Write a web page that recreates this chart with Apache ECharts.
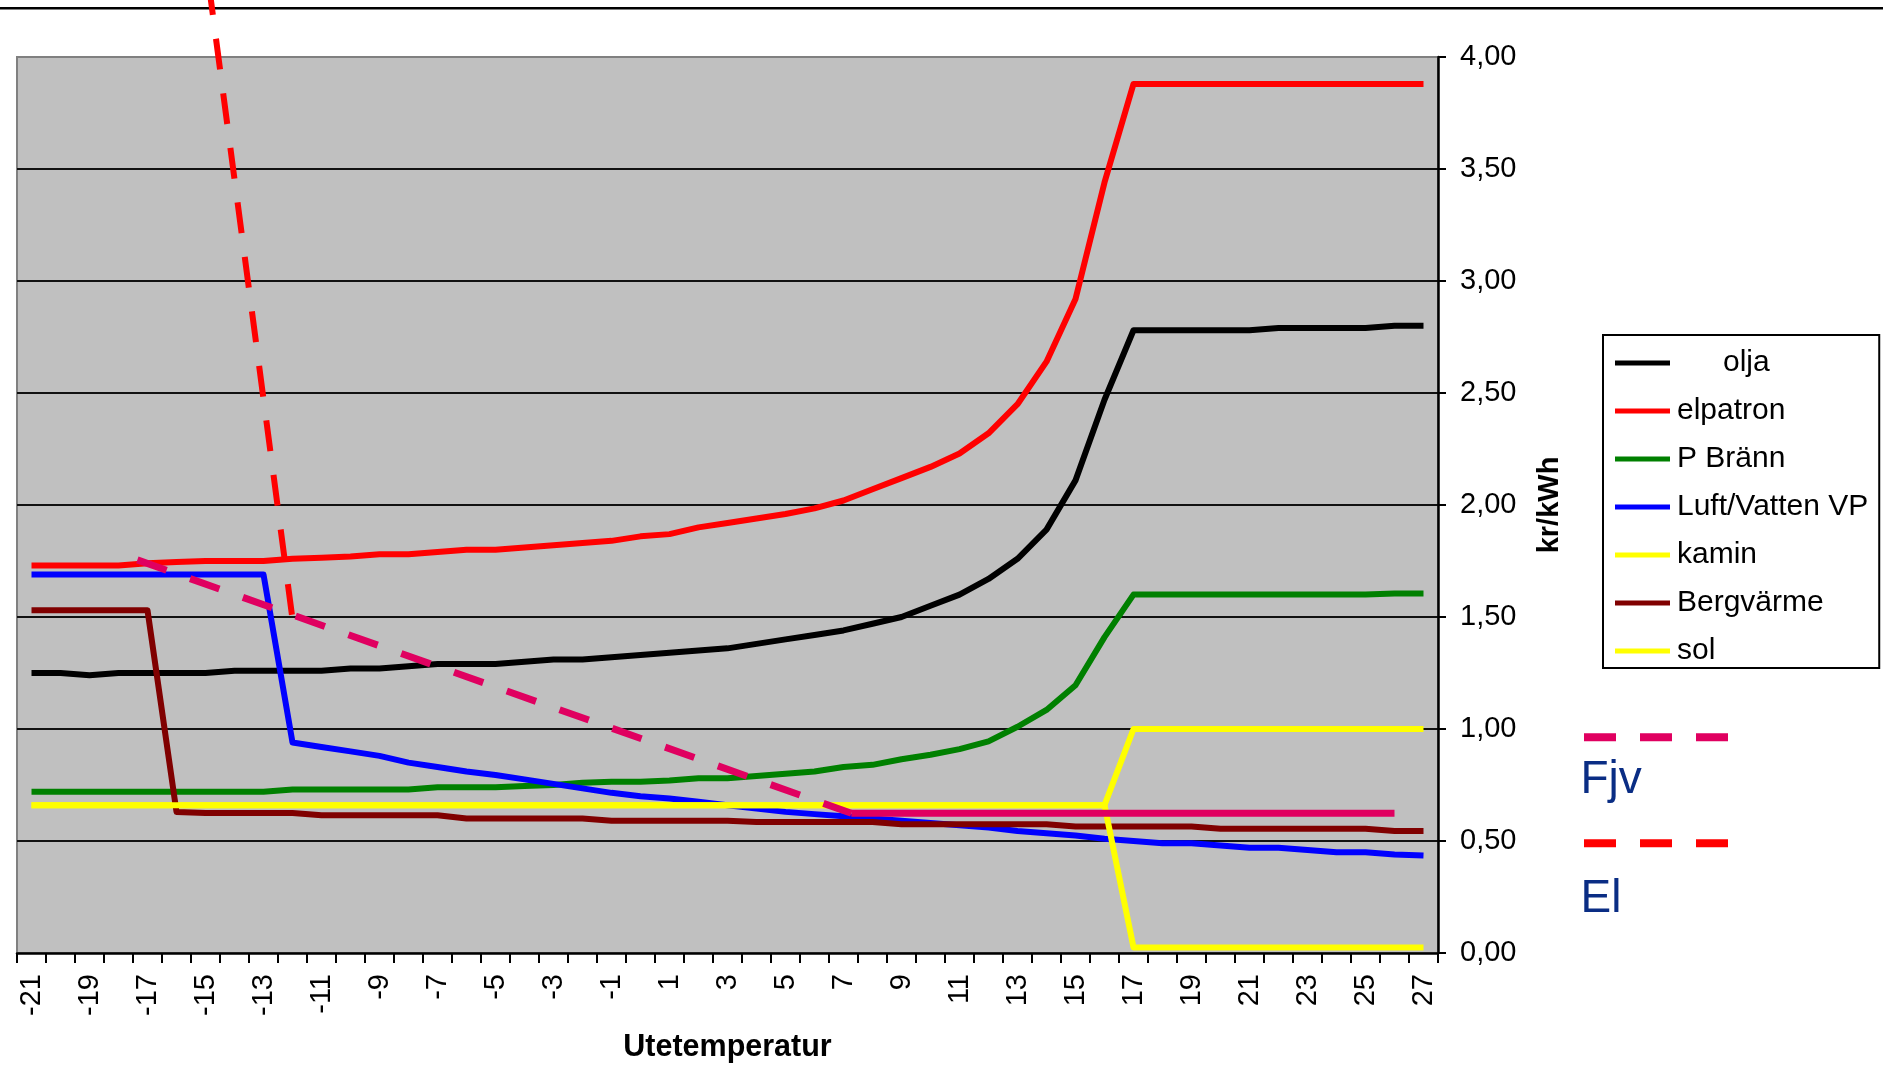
<!DOCTYPE html>
<html>
<head>
<meta charset="utf-8">
<title>Uppvärmningskostnad per kWh</title>
<script src="https://cdn.jsdelivr.net/npm/echarts@6/dist/echarts.min.js"></script>
<style>
  html, body { margin: 0; padding: 0; background: #ffffff; }
  #chart { width: 1883px; height: 1081px; }
</style>
</head>
<body>
<div id="chart"></div>
<script>
// Outdoor temperature categories (°C)
const temperatures = ['-21','-20','-19','-18','-17','-16','-15','-14','-13','-12','-11','-10','-9','-8','-7','-6','-5','-4','-3','-2','-1','0','1','2','3','4','5','6','7','8','9','10','11','12','13','14','15','16','17','18','19','20','21','22','23','24','25','26','27'];

// Cost in kr/kWh per heating method, one value per temperature
const olja = [1.25,1.25,1.24,1.25,1.25,1.25,1.25,1.26,1.26,1.26,1.26,1.27,1.27,1.28,1.29,1.29,1.29,1.30,1.31,1.31,1.32,1.33,1.34,1.35,1.36,1.38,1.40,1.42,1.44,1.47,1.50,1.55,1.60,1.67,1.76,1.89,2.11,2.47,2.78,2.78,2.78,2.78,2.78,2.79,2.79,2.79,2.79,2.80,2.80];
const elpatron = [1.73,1.73,1.73,1.73,1.74,1.745,1.75,1.75,1.75,1.76,1.765,1.77,1.78,1.78,1.79,1.80,1.80,1.81,1.82,1.83,1.84,1.86,1.87,1.90,1.92,1.94,1.96,1.985,2.02,2.07,2.12,2.17,2.23,2.32,2.45,2.64,2.92,3.44,3.88,3.88,3.88,3.88,3.88,3.88,3.88,3.88,3.88,3.88,3.88];
const pBrann = [0.72,0.72,0.72,0.72,0.72,0.72,0.72,0.72,0.72,0.73,0.73,0.73,0.73,0.73,0.74,0.74,0.74,0.745,0.75,0.76,0.765,0.765,0.77,0.78,0.78,0.79,0.80,0.81,0.83,0.84,0.865,0.885,0.91,0.945,1.01,1.085,1.195,1.41,1.60,1.60,1.60,1.60,1.60,1.60,1.60,1.60,1.60,1.605,1.605];
const luftVatten = [1.69,1.69,1.69,1.69,1.69,1.69,1.69,1.69,1.69,0.94,0.92,0.90,0.88,0.85,0.83,0.81,0.795,0.775,0.755,0.735,0.715,0.70,0.69,0.675,0.66,0.645,0.63,0.62,0.61,0.60,0.59,0.58,0.57,0.56,0.545,0.535,0.525,0.51,0.50,0.49,0.49,0.48,0.47,0.47,0.46,0.45,0.45,0.44,0.435];
const kamin = [0.66,0.66,0.66,0.66,0.66,0.66,0.66,0.66,0.66,0.66,0.66,0.66,0.66,0.66,0.66,0.66,0.66,0.66,0.66,0.66,0.66,0.66,0.66,0.66,0.66,0.66,0.66,0.66,0.66,0.66,0.66,0.66,0.66,0.66,0.66,0.66,0.66,0.66,1.00,1.00,1.00,1.00,1.00,1.00,1.00,1.00,1.00,1.00,1.00];
const bergvarme = [1.53,1.53,1.53,1.53,1.53,0.63,0.625,0.625,0.625,0.625,0.615,0.615,0.615,0.615,0.615,0.60,0.60,0.60,0.60,0.60,0.59,0.59,0.59,0.59,0.59,0.585,0.585,0.585,0.585,0.585,0.575,0.575,0.575,0.575,0.575,0.575,0.565,0.565,0.565,0.565,0.565,0.555,0.555,0.555,0.555,0.555,0.555,0.545,0.545];
const sol = [0.66,0.66,0.66,0.66,0.66,0.66,0.66,0.66,0.66,0.66,0.66,0.66,0.66,0.66,0.66,0.66,0.66,0.66,0.66,0.66,0.66,0.66,0.66,0.66,0.66,0.66,0.66,0.66,0.66,0.66,0.66,0.66,0.66,0.66,0.66,0.66,0.66,0.66,0.025,0.025,0.025,0.025,0.025,0.025,0.025,0.025,0.025,0.025,0.025];

// Hand-drawn guide lines (temperature, kr/kWh) for district heating and electricity
const fjvDashTemp = [-17.35, 7.27];
const fjvDashCost = [1.755, 0.624];
const fjvFlatTemp = [7.27, 26];
const fjvFlatCost = [0.624, 0.624];
const elTemp = [-12.02, -14.83];
const elCost = [1.51, 4.27];

// Y axis tick values
const costTicks = [0, 0.5, 1, 1.5, 2, 2.5, 3, 3.5, 4];

const FONT = '"Liberation Sans", Arial, sans-serif';
const PINK = '#E00060';
const NAVY = '#0A2D84';

const pairs = (xs, ys) => xs.map((x, i) => [x, ys[i]]);

function costLine(name, data, color) {
  return {
    name, type: 'line', data,
    xAxisIndex: 0, yAxisIndex: 0,
    symbol: 'none', showSymbol: false,
    lineStyle: { color, width: 6, join: 'round', cap: 'butt' },
    itemStyle: { color },
    emphasis: { disabled: true },
    silent: true
  };
}

function guideLine(name, data, color, width, dash, clip) {
  return {
    name, type: 'line', data,
    xAxisIndex: 1, yAxisIndex: 0,
    symbol: 'none', showSymbol: false,
    clip: clip,
    lineStyle: { color, width, type: dash || 'solid', cap: 'butt', join: 'round' },
    itemStyle: { color },
    emphasis: { disabled: true },
    silent: true
  };
}

const legendText = { fontFamily: FONT, fontSize: 30, color: '#000' };

const chart = echarts.init(document.getElementById('chart'), null, { renderer: 'canvas' });

chart.setOption({
  animation: false,
  backgroundColor: '#ffffff',
  textStyle: { fontFamily: FONT },
  grid: {
    left: 17, top: 57, width: 1421, height: 896,
    show: true, backgroundColor: '#C0C0C0', borderColor: '#808080', borderWidth: 2,
    containLabel: false, outerBoundsMode: 'none'
  },
  legend: {
    data: ['olja', 'elpatron', 'P Bränn', 'Luft/Vatten VP', 'kamin', 'Bergvärme', 'sol'],
    orient: 'vertical',
    left: 1603, top: 335,
    padding: [13, 11, 2, 12],
    itemGap: 18,
    itemWidth: 55, itemHeight: 5,
    icon: 'rect',
    selectedMode: false,
    backgroundColor: '#ffffff',
    borderColor: '#000000', borderWidth: 2,
    formatter: n => n === 'olja' ? '{o|olja}' : '{t|' + n + '}',
    textStyle: Object.assign({}, legendText, {
      rich: {
        o: Object.assign({}, legendText, { padding: [0, 0, 0, 48] }),
        t: Object.assign({}, legendText, { padding: [0, 0, 0, 2] })
      }
    })
  },
  xAxis: [
    {
      type: 'category',
      data: temperatures,
      boundaryGap: true,
      position: 'bottom',
      name: 'Utetemperatur',
      nameLocation: 'middle',
      nameGap: 79,
      nameMoveOverlap: false,
      nameTextStyle: { fontFamily: FONT, fontSize: 30.5, fontWeight: 'bold', color: '#000' },
      axisLine: { show: true, onZero: false, lineStyle: { color: '#000', width: 2.5 } },
      axisTick: { show: true, interval: 0, length: 10, inside: false, lineStyle: { color: '#000', width: 2 } },
      axisLabel: { interval: 1, rotate: 90, margin: 21, fontFamily: FONT, fontSize: 29, color: '#000' },
      splitLine: { show: false }
    },
    {
      type: 'value',
      min: -21.5, max: 27.5,
      show: false,
      axisLine: { show: false, onZero: false },
      splitLine: { show: false }
    }
  ],
  yAxis: {
    type: 'value',
    position: 'right',
    min: 0, max: 4, interval: 0.5,
    name: 'kr/kWh',
    nameLocation: 'middle',
    nameRotate: 90,
    nameGap: 97,
    nameMoveOverlap: false,
    nameTextStyle: { fontFamily: FONT, fontSize: 29, fontWeight: 'bold', color: '#000' },
    axisLine: { show: true, onZero: false, lineStyle: { color: '#000', width: 2.5 } },
    axisTick: { show: true, length: 8, inside: false, lineStyle: { color: '#000', width: 2 } },
    axisLabel: {
      margin: 22, fontFamily: FONT, fontSize: 29, color: '#000',
      padding: [8, 0, 0, 0],
      customValues: costTicks,
      formatter: v => v.toFixed(2).replace('.', ',')
    },
    splitLine: { show: true, showMinLine: false, showMaxLine: false, lineStyle: { color: '#111', width: 2 } }
  },
  series: [
    costLine('olja', olja, '#000000'),
    costLine('elpatron', elpatron, '#FF0000'),
    costLine('P Bränn', pBrann, '#008000'),
    costLine('Luft/Vatten VP', luftVatten, '#0000FF'),
    costLine('kamin', kamin, '#FFFF00'),
    costLine('Bergvärme', bergvarme, '#800000'),
    costLine('sol', sol, '#FFFF00'),
    guideLine('Fjv', pairs(fjvDashTemp, fjvDashCost), PINK, 7, [31, 25], true),
    guideLine('Fjv ', pairs(fjvFlatTemp, fjvFlatCost), PINK, 7, 'solid', true),
    guideLine('El', pairs(elTemp, elCost), '#FF0000', 6, [31, 24], false)
  ],
  graphic: [
    { type: 'rect', silent: true, shape: { x: 0, y: 7, width: 1883, height: 2.6 }, style: { fill: '#000' } },
    { type: 'line', silent: true, shape: { x1: 1584, y1: 737.3, x2: 1728.5, y2: 737.3 },
      style: { stroke: PINK, lineWidth: 8, lineDash: [32, 24] } },
    { type: 'text', silent: true, x: 1580.5, y: 780.8,
      style: { text: 'Fjv', fontFamily: FONT, fontSize: 46, fill: NAVY, verticalAlign: 'middle', align: 'left' } },
    { type: 'line', silent: true, shape: { x1: 1584, y1: 843.3, x2: 1728.5, y2: 843.3 },
      style: { stroke: '#FF0000', lineWidth: 8, lineDash: [32, 24] } },
    { type: 'text', silent: true, x: 1580.5, y: 899.5,
      style: { text: 'El', fontFamily: FONT, fontSize: 46, fill: NAVY, verticalAlign: 'middle', align: 'left' } }
  ]
});
</script>
</body>
</html>
